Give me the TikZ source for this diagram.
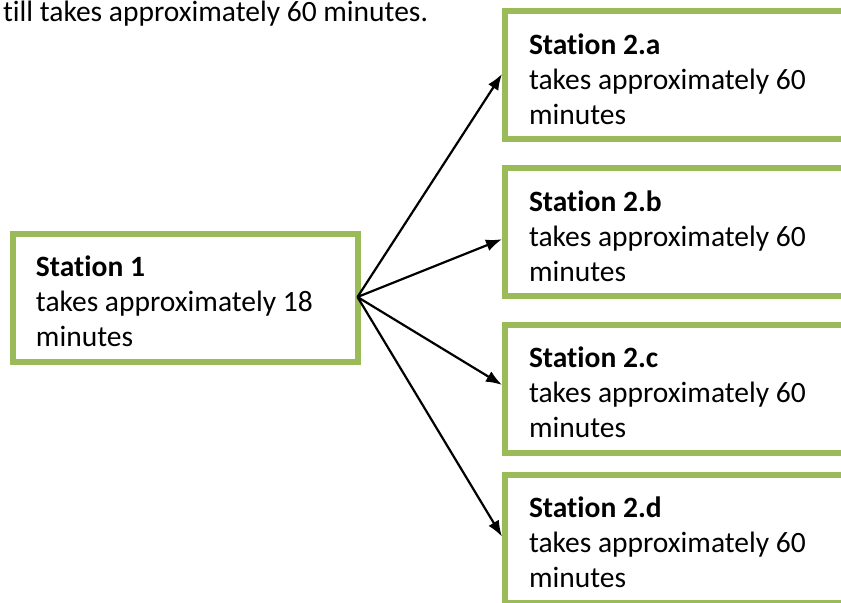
\documentclass[tikz,border=0pt]{standalone}
\usepackage{fontspec}
\setmainfont{Carlito}[Ligatures=NoCommon,RawFeature={-liga;-clig;-calt;-dlig}]
\usetikzlibrary{positioning,arrows.meta}
\definecolor{stationgreen}{HTML}{9BBB59}
\tikzset{
  bodytext/.style={font=\fontsize{29.5bp}{35bp}\selectfont},
  station/.style={rectangle,draw=stationgreen,line width=6bp,align=flush left,
    inner xsep=24bp,inner ysep=0pt,text width=352bp,minimum height=128bp,bodytext,
    execute at begin node={\rule{0pt}{28bp}}}
}

\begin{document}
\begin{tikzpicture}[x=1bp,y=-1bp,node distance=156.7bp,on grid,
  >={Latex[length=16bp,width=12bp]},line width=2.2bp]
 \useasboundingbox (0,0) rectangle (841,603);
 \node[anchor=base west,inner sep=0pt,bodytext] (note) at (2,22) {till takes approximately 60 minutes.};
 \node[station,inner xsep=23bp,text width=298.5bp,minimum height=127bp,outer sep=0pt] (s_1) at (185.25,298)
   {\textbf{Station 1}\\takes approximately 18\\minutes};
 \node[station] (s_2a) at (705,75.5) {\textbf{Station 2.a}\\takes approximately 60\\minutes};
 \node[station] (s_2b) [below=of s_2a] {\textbf{Station 2.b}\\takes approximately 60\\minutes};
 \node[station] (s_2c) [below=of s_2b] {\textbf{Station 2.c}\\takes approximately 60\\minutes};
 \node[station] (s_2d) [below=150bp of s_2c] {\textbf{Station 2.d}\\takes approximately 60\\minutes};
 \path[->]
 ([yshift=1bp]s_1.east) edge ([yshift=1.5bp]s_2a.west)
 ([yshift=1bp]s_1.east) edge ([yshift=-7bp]s_2b.west)
 ([yshift=1bp]s_1.east) edge ([yshift=4bp]s_2c.west)
 ([yshift=1bp]s_1.east) edge ([yshift=2.3bp]s_2d.west);
\end{tikzpicture}
\end{document}
